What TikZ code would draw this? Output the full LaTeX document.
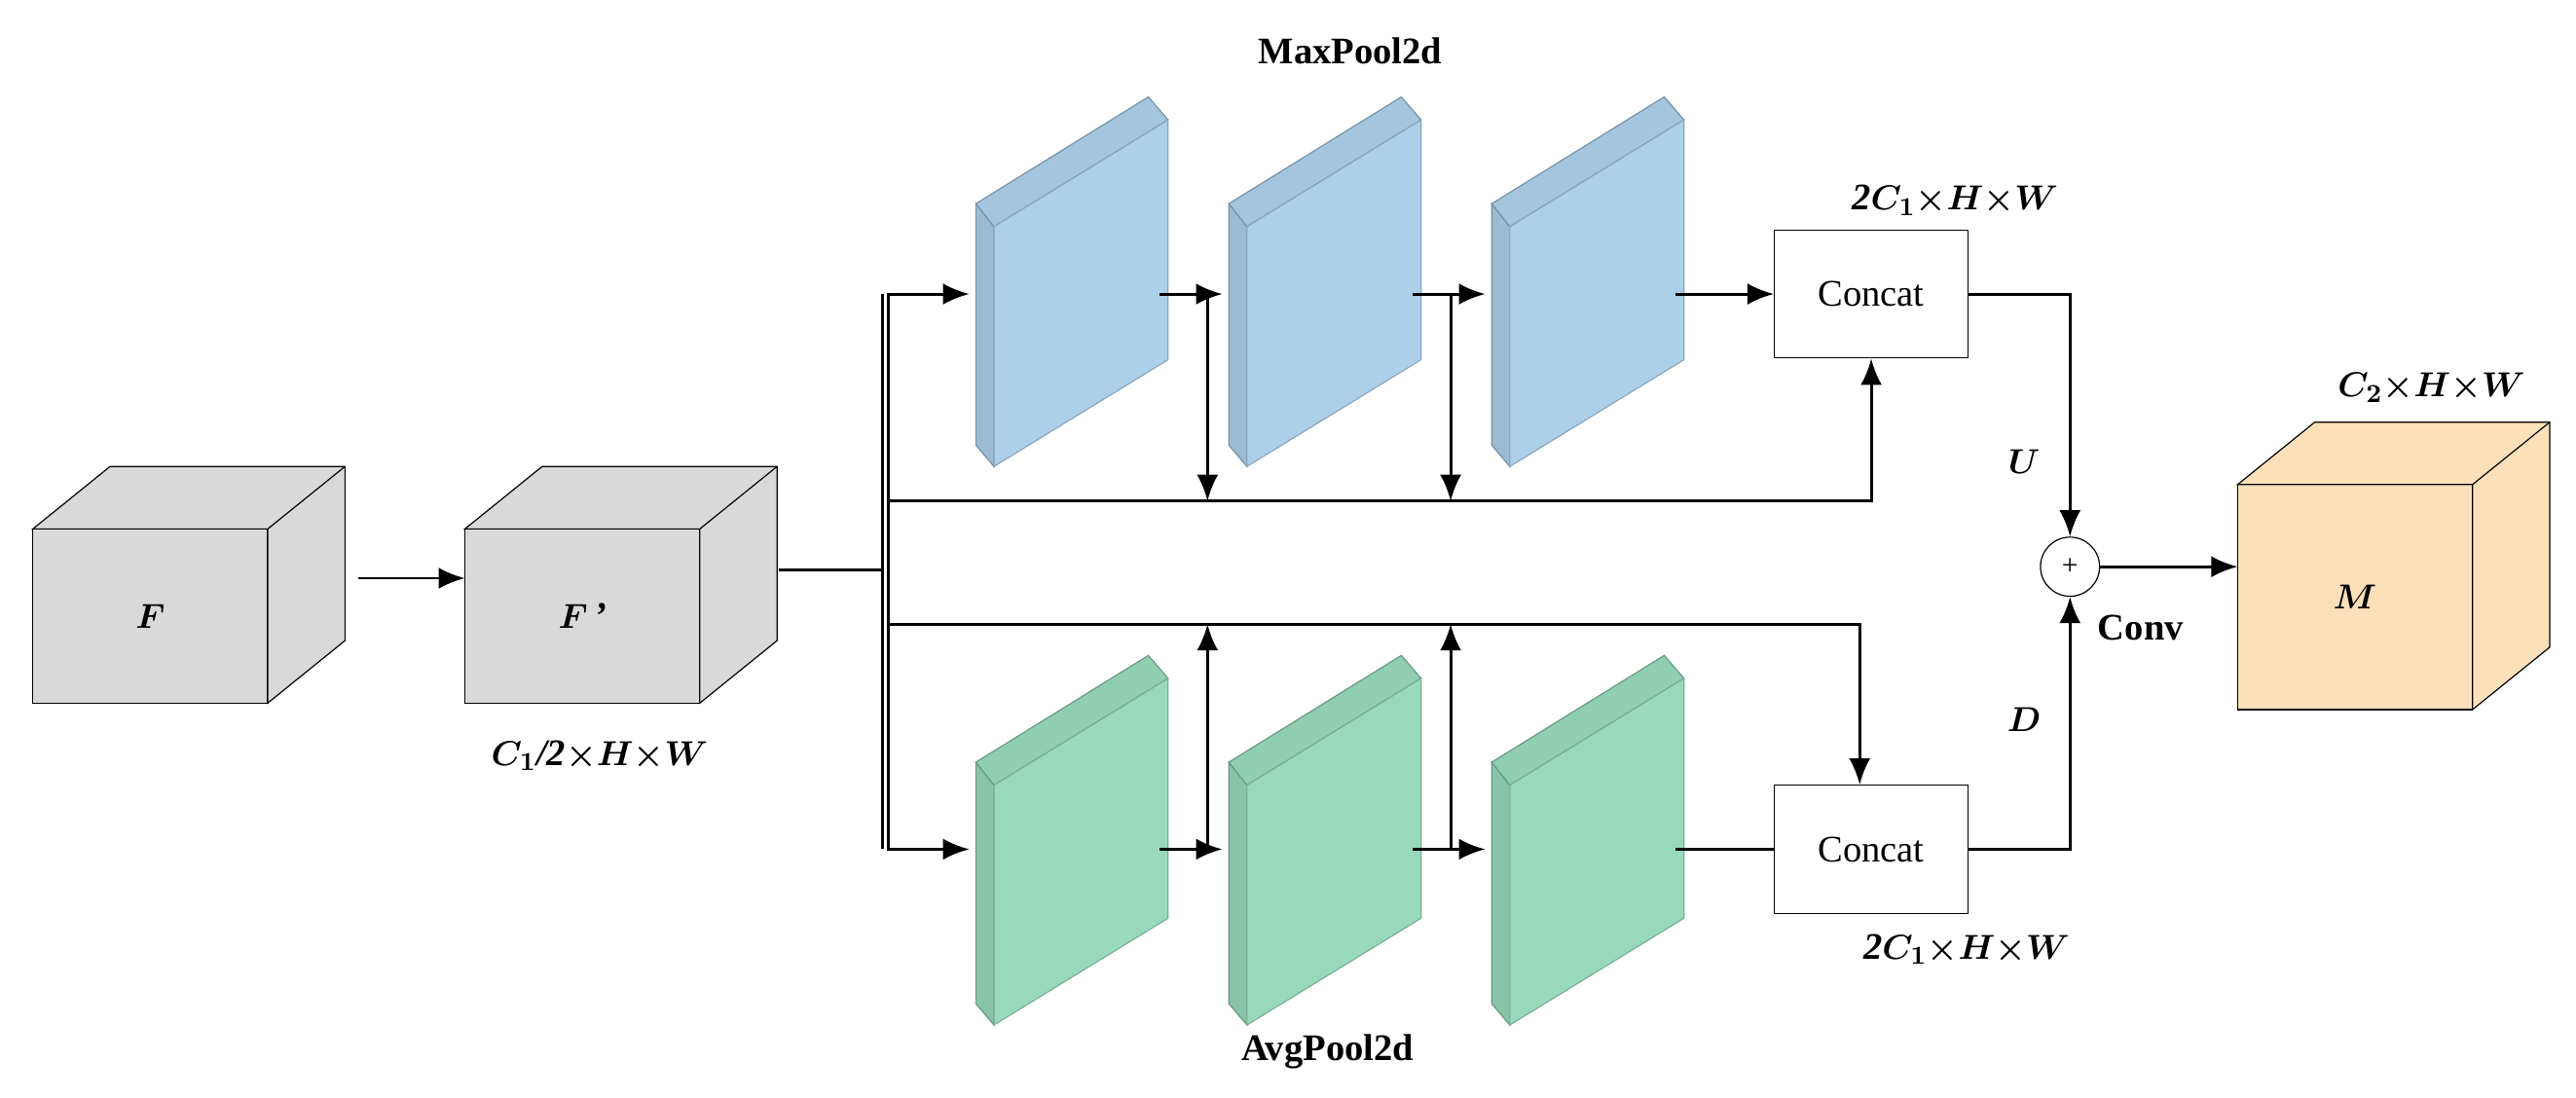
\documentclass[tikz,border=0pt]{standalone}
\usepackage{fontspec}
\setmainfont{Liberation Serif}
\usetikzlibrary{positioning,arrows.meta}
\definecolor{cubegray}{RGB}{217,217,217}
\definecolor{mapblue}{RGB}{172,208,234}
\definecolor{mapgreen}{RGB}{152,217,188}
\definecolor{cubeorange}{RGB}{252,224,185}
\tikzset{
	arr/.style={-{Latex[length=3.2mm,width=2.6mm]}, line width=1pt},
	lin/.style={line width=1pt},
	catnode/.style={rectangle, draw, thin, minimum width=2.36cm, minimum height=1.56cm, font=\fontsize{13}{15}\selectfont},
	lbl/.style={font=\bfseries\boldmath\itshape\fontsize{13}{15}\selectfont},
	slab/.pic={
		\filldraw[#1!90!black, draw=#1!70!black, thin] (0,0) -- (11,14) -- (11,160) -- (0,147) -- cycle;
		\filldraw[#1!95!black, draw=#1!70!black, thin] (0,0) -- (105,-65) -- (117,-51) -- (11,14) -- cycle;
		\filldraw[#1, draw=#1!80!black, thin] (11,14) -- (117,-51) -- (117,95) -- (11,160) -- cycle;
	}
}
\newcommand{\cube}[6]{% x, y, w, h, colour, label
	\fill[#5, draw=black] (#1,#2) rectangle ++(#3,#4);
	\fill[#5, draw=black] (#1,#2) -- ++(47,-38) -- ++(#3,0) -- ++(0,#4) -- ++(-47,38) -- ++(0,-#4) -- cycle;
	\draw (#1+#3,#2) -- ++(47,-38);
	\node[lbl] at (#1+#3/2,#2+#4/2) {#6};
}
\begin{document}
\begin{tikzpicture}[x=0.02cm, y=-0.02cm]
	\useasboundingbox (0,0) rectangle (1568,668);
	% cubes
	\cube{20}{322}{143}{106}{cubegray}{$F$}
	\cube{283}{322}{143}{106}{cubegray}{$F$\,’}
	\cube{1362}{295}{143}{137}{cubeorange}{$M$}
	\coordinate (Fout) at (218,352);
	\coordinate (Fpin) at (283,352);
	\coordinate (Fpout) at (474,347);
	\coordinate (Min) at (1362,345);
	\node[lbl] at (365,460) {$C_1$/2${\times}H{\times}W$};
	\node[lbl] at (1480,236) {$C_2{\times}H{\times}W$};
	% feature maps
	\foreach \x/\n in {594/1,748/2,908/3}{
		\pic at (\x,124) {slab=mapblue};
		\pic at (\x,464) {slab=mapgreen};
		\coordinate (b\n in) at (\x-4,179);
		\coordinate (b\n out) at (\x+112,179);
		\coordinate (g\n in) at (\x-4,517);
		\coordinate (g\n out) at (\x+112,517);
	}
	\node[font=\bfseries\fontsize{13}{15}\selectfont] at (822,31) {MaxPool2d};
	\node[font=\bfseries\fontsize{13}{15}\selectfont] at (808,640) {AvgPool2d};
	% concat and sum
	\node[catnode] (catU) at (1139,179) {Concat};
	\node[catnode] (catD) at (1139,517) {Concat};
	\node[circle, draw, thin, minimum size=0.72cm, inner sep=0pt] (sum) at (1260,345) {+};
	\node[lbl] at (1190,122) {2$C_1{\times}H{\times}W$};
	\node[lbl] at (1197,578) {2$C_1{\times}H{\times}W$};
	\node[lbl] at (1232,281) {$U$};
	\node[lbl] at (1232,438) {$D$};
	\node[font=\bfseries\fontsize{13}{15}\selectfont] at (1303,382) {Conv};
	% connectors
	\draw[arr] (Fout) -- (Fpin);
	\draw[lin] (Fpout) -- (537,347);
	\draw[lin] (537,179) -- (537,517);
	\draw[arr] (541,517) |- (b1in);
	\draw[arr] (541,179) |- (g1in);
	\draw[arr] (b1out) -- (b2in);
	\draw[arr] (b2out) -- (b3in);
	\draw[arr] (b3out) -- (catU.west);
	\draw[arr] (735,179) -- (735,305);
	\draw[arr] (883,179) -- (883,305);
	\draw[arr] (541,305) -| (catU.south);
	\draw[arr] (g1out) -- (g2in);
	\draw[arr] (g2out) -- (g3in);
	\draw[lin] (g3out) -- (catD.west);
	\draw[arr] (735,517) -- (735,380);
	\draw[arr] (883,517) -- (883,380);
	\draw[arr] (541,380) -| ([xshift=-4]catD.north);
	\draw[arr] (catU.east) -| (sum.north);
	\draw[arr] (catD.east) -| (sum.south);
	\draw[arr] (sum.east) -- (Min);
\end{tikzpicture}
\end{document}
